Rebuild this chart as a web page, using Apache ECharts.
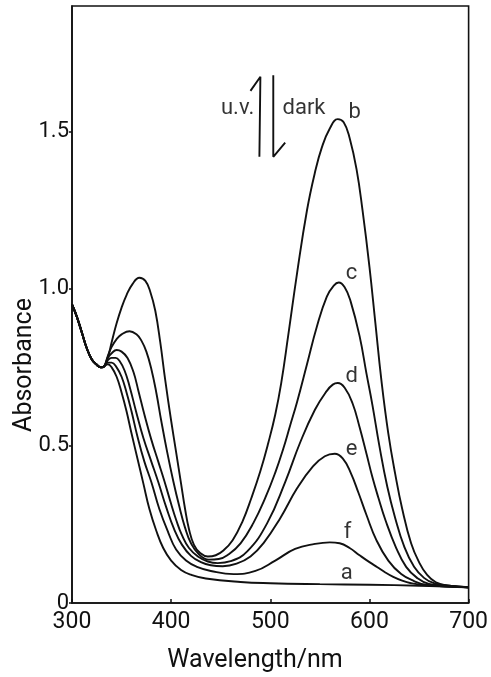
<!DOCTYPE html>
<html>
<head>
<meta charset="utf-8">
<script src="https://cdn.jsdelivr.net/npm/echarts@6/dist/echarts.min.js"></script>
<style>
  html, body { margin: 0; padding: 0; background: #fff; }
  #chart { width: 491px; height: 677px; }
</style>
</head>
<body>
<div id="chart"></div>
<script>
// spectra: [wavelength nm, absorbance]
const startPart = [[300, 0.95], [305, 0.91], [310, 0.86], [315, 0.81], [320, 0.775], [325, 0.758], [329, 0.75], [332, 0.752]]

const curveA = startPart.concat([[336, 0.76], [340, 0.75], [345, 0.72], [350, 0.67], [355, 0.61], [360, 0.54], [366, 0.46], [372, 0.38], [378, 0.30], [385, 0.23], [392, 0.175], [400, 0.135], [410, 0.105], [420, 0.09], [435, 0.078], [470, 0.067], [500, 0.063], [550, 0.06], [600, 0.058], [650, 0.055], [700, 0.05]])

const curveB = startPart.concat([[336, 0.78], [340, 0.83], [345, 0.89], [350, 0.94], [355, 0.98], [361, 1.015], [368, 1.035], [374, 1.025], [379, 0.99], [384, 0.93], [389, 0.83], [394, 0.71], [400, 0.58], [405, 0.48], [410, 0.38], [414, 0.30], [418, 0.235], [423, 0.185], [429, 0.16], [437, 0.148], [445, 0.152], [453, 0.168], [462, 0.20], [472, 0.26], [481, 0.335], [490, 0.42], [498, 0.51], [505, 0.60], [511, 0.70], [518, 0.85], [527, 1.05], [537, 1.25], [545, 1.37], [552, 1.45], [560, 1.51], [568, 1.54], [574, 1.53], [580, 1.48], [587, 1.38], [593, 1.25], [600, 1.07], [606, 0.89], [612, 0.71], [619, 0.54], [626, 0.41], [633, 0.30], [642, 0.19], [650, 0.13], [658, 0.09], [667, 0.066], [680, 0.055], [700, 0.05]])

const curveC = startPart.concat([[336, 0.785], [340, 0.815], [345, 0.84], [350, 0.855], [358, 0.865], [365, 0.855], [370, 0.835], [375, 0.80], [380, 0.745], [385, 0.67], [390, 0.58], [396, 0.48], [402, 0.39], [408, 0.31], [414, 0.24], [420, 0.19], [428, 0.155], [438, 0.138], [448, 0.14], [458, 0.155], [470, 0.19], [483, 0.255], [495, 0.335], [505, 0.415], [513, 0.49], [520, 0.565], [527, 0.64], [537, 0.76], [547, 0.88], [557, 0.975], [564, 1.01], [569, 1.02], [575, 1.005], [581, 0.96], [590, 0.85], [597, 0.73], [603, 0.63], [610, 0.50], [618, 0.37], [626, 0.27], [635, 0.18], [645, 0.115], [655, 0.08], [665, 0.063], [680, 0.055], [700, 0.05]])

const curveD = startPart.concat([[336, 0.78], [340, 0.795], [345, 0.805], [350, 0.80], [356, 0.78], [362, 0.735], [367, 0.675], [373, 0.60], [380, 0.52], [387, 0.45], [393, 0.39], [400, 0.315], [405, 0.265], [411, 0.215], [418, 0.175], [427, 0.148], [437, 0.132], [447, 0.127], [460, 0.133], [477, 0.165], [497, 0.255], [515, 0.385], [530, 0.51], [545, 0.615], [557, 0.675], [563, 0.695], [568, 0.70], [575, 0.685], [583, 0.635], [590, 0.56], [597, 0.475], [603, 0.40], [609, 0.335], [616, 0.265], [627, 0.175], [637, 0.115], [648, 0.08], [660, 0.061], [680, 0.055], [700, 0.05]])

const curveE = startPart.concat([[336, 0.772], [340, 0.78], [344, 0.78], [348, 0.77], [353, 0.74], [358, 0.69], [365, 0.605], [372, 0.525], [380, 0.45], [387, 0.385], [395, 0.305], [403, 0.235], [411, 0.185], [420, 0.15], [430, 0.13], [440, 0.12], [452, 0.117], [466, 0.125], [480, 0.148], [493, 0.19], [510, 0.27], [527, 0.365], [543, 0.435], [555, 0.467], [565, 0.475], [573, 0.46], [581, 0.415], [589, 0.35], [597, 0.28], [607, 0.20], [619, 0.135], [632, 0.092], [645, 0.07], [657, 0.058], [700, 0.05]])

const curveF = startPart.concat([[336, 0.765], [340, 0.765], [345, 0.75], [350, 0.72], [355, 0.67], [360, 0.61], [366, 0.53], [373, 0.45], [380, 0.385], [388, 0.30], [397, 0.225], [405, 0.17], [415, 0.135], [426, 0.115], [440, 0.102], [463, 0.092], [485, 0.102], [505, 0.135], [525, 0.172], [545, 0.188], [560, 0.193], [570, 0.19], [580, 0.175], [590, 0.152], [600, 0.13], [608, 0.114], [616, 0.097], [624, 0.083], [633, 0.071], [642, 0.063], [655, 0.057], [700, 0.05]])

const curveNames = ['a', 'b', 'c', 'd', 'e', 'f']
const curveLabels = [[577, 0.095, 'a'], [585, 1.56, 'b'], [582, 1.05, 'c'], [582, 0.72, 'd'], [582, 0.49, 'e'], [578, 0.225, 'f'], [467, 1.575, 'u.v.'], [534, 1.575, 'dark']]
const uvArrow = [[489, 1.42], [490, 1.675], [480, 1.63]]
const darkArrow = [[503, 1.68], [503, 1.42], [515, 1.465]]

const xTicks = [300, 400, 500, 600, 700]
const yTickLabels = { 0: '0', 0.5: '0.5', 1: '1.0', 1.5: '1.5' }

const font = 'Roboto, "DejaVu Sans", sans-serif'
const ink = '#111'

const chart = echarts.init(document.getElementById('chart'))

const series = [curveA, curveB, curveC, curveD, curveE, curveF].map((d, i) => ({
  name: curveNames[i],
  type: 'line',
  data: d,
  smooth: 0.45,
  showSymbol: false,
  lineStyle: { color: ink, width: 1.9 },
  z: 3
}))

// arrows next to u.v. / dark
series.push({
  type: 'line', data: uvArrow, showSymbol: false, smooth: false,
  lineStyle: { color: ink, width: 1.9 }
})
series.push({
  type: 'line', data: darkArrow, showSymbol: false, smooth: false,
  lineStyle: { color: ink, width: 1.9 }
})

// curve letters and annotations
series.push({
  type: 'scatter',
  data: curveLabels,
  symbolSize: 1,
  itemStyle: { color: 'rgba(0,0,0,0)' },
  label: {
    show: true,
    position: 'inside',
    formatter: p => p.data[2],
    color: '#000',
    textBorderWidth: 0,
    fontSize: 22,
    fontFamily: font
  },
  z: 5
})

chart.setOption({
  animation: false,
  backgroundColor: '#fff',
  grid: {
    left: 72,
    right: 19,
    top: 6,
    bottom: 74,
    show: true,
    borderColor: ink,
    borderWidth: 1.6
  },
  xAxis: {
    type: 'value',
    min: 300,
    max: 700,
    interval: 100,
    axisLine: { lineStyle: { color: ink, width: 1.6 } },
    axisTick: { inside: true, length: 4, lineStyle: { color: ink, width: 1.5 } },
    splitLine: { show: false },
    axisLabel: {
      color: ink, fontSize: 23, fontFamily: font, margin: 8,
      formatter: v => xTicks.includes(v) ? String(v) : ''
    }
  },
  yAxis: {
    type: 'value',
    min: 0,
    max: 1.9,
    interval: 0.5,
    axisLine: { show: true, lineStyle: { color: ink, width: 1.6 } },
    axisTick: { show: true, length: 3, lineStyle: { color: ink, width: 1.5 } },
    splitLine: { show: false },
    axisLabel: {
      color: ink, fontSize: 22, fontFamily: font, margin: 3,
      showMaxLabel: false,
      formatter: v => yTickLabels[v] !== undefined ? yTickLabels[v] : ''
    }
  },
  graphic: [
    {
      type: 'text',
      x: 255, y: 661,
      style: { text: 'Wavelength/nm', fill: ink, font: '25px ' + font, align: 'center', verticalAlign: 'middle' }
    },
    {
      type: 'text',
      x: 25, y: 365,
      rotation: Math.PI / 2,
      style: { text: 'Absorbance', fill: ink, font: '25px ' + font, align: 'center', verticalAlign: 'middle' }
    }
  ],
  series: series
})
</script>
</body>
</html>
